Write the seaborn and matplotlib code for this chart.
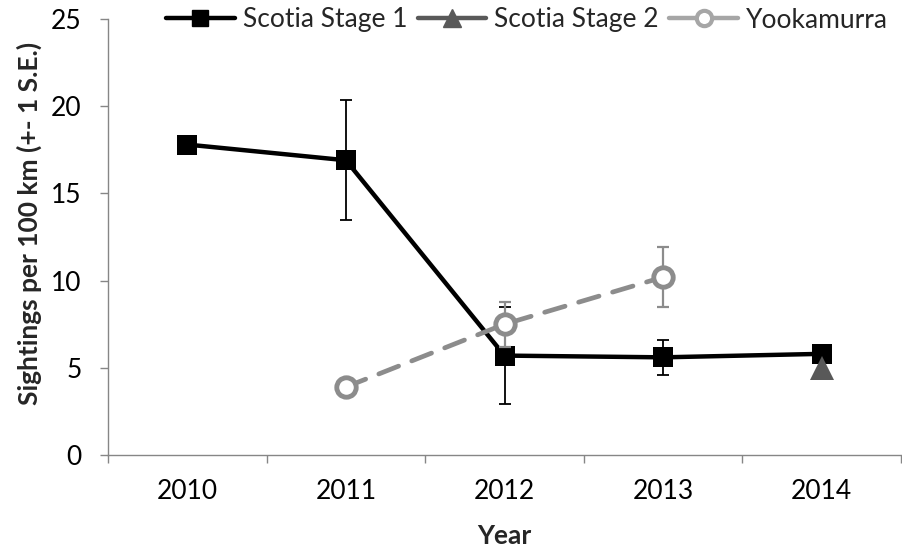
import numpy as np
import pandas as pd
import matplotlib
matplotlib.use("Agg")
import matplotlib.pyplot as plt
from matplotlib.lines import Line2D
import seaborn as sns

# Survey data: sightings per 100 km with one standard error
years = ["2010", "2011", "2012", "2013", "2014"]
scotia1_years = ["2010", "2011", "2012", "2013", "2014"]
scotia1_vals = [17.8, 16.9, 5.7, 5.6, 5.8]
scotia1_se = [0.0, 3.45, 2.8, 1.0, 0.0]
scotia2_years = ["2014"]
scotia2_vals = [5.0]
yooka_years = ["2011", "2012", "2013"]
yooka_vals = [3.9, 7.5, 10.2]
yooka_se = [0.0, 1.3, 1.7]
y_ticks = [0, 5, 10, 15, 20, 25]

sns.set_theme(style="white")
plt.rcParams["font.family"] = ["Lato", "DejaVu Sans"]

C_S1 = "#000000"
C_S2 = "#595959"
C_YK = "#8c8c8c"
AXIS_C = "#868686"
FS = 19

pos = {y: i for i, y in enumerate(years)}

df1 = pd.DataFrame({"x": [pos[y] for y in scotia1_years], "v": scotia1_vals, "se": scotia1_se})
df2 = pd.DataFrame({"x": [pos[y] for y in scotia2_years], "v": scotia2_vals})
dfy = pd.DataFrame({"x": [pos[y] for y in yooka_years], "v": yooka_vals, "se": yooka_se})

fig = plt.figure(figsize=(9.02, 5.55), dpi=100)
ax = fig.add_axes([108 / 902, 100 / 555, 793 / 902, 436 / 555])

# Scotia Stage 1
eb = df1[df1.se > 0]
ax.errorbar(eb.x, eb.v, yerr=eb.se, fmt="none", ecolor=C_S1, elinewidth=1.3,
            capsize=4.5, capthick=1.3, zorder=2)
sns.lineplot(data=df1, x="x", y="v", ax=ax, color=C_S1, linewidth=3.2,
             marker="s", markersize=14, markeredgewidth=0, zorder=3,
             legend=False, estimator=None, sort=False)

# Scotia Stage 2
sns.lineplot(data=df2, x="x", y="v", ax=ax, color=C_S2, linewidth=3,
             marker="^", markersize=17, markeredgewidth=0, zorder=4,
             legend=False, estimator=None)

# Yookamurra
eb = dfy[dfy.se > 0]
ax.errorbar(eb.x, eb.v, yerr=eb.se, fmt="none", ecolor=C_YK, elinewidth=1.6,
            capsize=4.5, capthick=1.6, zorder=5)
sns.lineplot(data=dfy, x="x", y="v", ax=ax, color=C_YK, linewidth=3.4,
             dashes=False, legend=False, estimator=None, zorder=5)
ax.lines[-1].set_dashes([4.5, 3])
ax.lines[-1].set_dash_capstyle("round")
ax.plot(dfy.x, dfy.v, linestyle="none", marker="o", markersize=14,
        markerfacecolor="white", markeredgecolor=C_YK, markeredgewidth=3.5,
        zorder=6)

# Axes styling
ax.set_xlim(-0.5, len(years) - 0.5)
ax.set_ylim(0, 25)
ax.set_yticks(y_ticks)
ax.set_yticklabels([str(t) for t in y_ticks], fontsize=FS)
ax.set_xticks(np.arange(-0.5, len(years), 1.0))
ax.set_xticklabels([])
ax.set_xticks(np.arange(len(years)), minor=True)
ax.set_xticklabels(years, minor=True, fontsize=FS)
ax.tick_params(axis="x", which="major", direction="out", length=6, width=1,
               color=AXIS_C, bottom=True)
ax.tick_params(axis="x", which="minor", length=0, pad=17, labelcolor="black")
ax.tick_params(axis="y", direction="out", length=6, width=1, color=AXIS_C,
               left=True, pad=13, labelcolor="black")
for side in ["top", "right"]:
    ax.spines[side].set_visible(False)
for side in ["left", "bottom"]:
    ax.spines[side].set_color(AXIS_C)
    ax.spines[side].set_linewidth(1)
ax.grid(False)

ax.set_xlabel("Year", fontsize=FS, fontweight="bold")
ax.set_ylabel("Sightings per 100 km (+- 1 S.E.)", fontsize=FS, fontweight="bold")
ax.xaxis.set_label_coords(0.5, (455 - 524) / 436)
ax.yaxis.set_label_coords((42 - 108) / 793, (455 - 223) / 436)

handles = [
    Line2D([], [], color=C_S1, linewidth=3.2, marker="s", markersize=12),
    Line2D([], [], color=C_S2, linewidth=3.2, marker="^", markersize=13),
    Line2D([], [], color="#a6a6a6", linewidth=3.2, marker="o", markersize=11,
           markerfacecolor="white", markeredgewidth=3),
]
fig.legend(handles, ["Scotia Stage 1", "Scotia Stage 2", "Yookamurra"],
           loc="center", bbox_to_anchor=(527 / 902, 1 - 20 / 555),
           ncol=3, frameon=False, fontsize=FS, handlelength=2.6,
           handletextpad=0.3, columnspacing=0.4, borderpad=0, borderaxespad=0)

fig.savefig("out.png", dpi=100)
